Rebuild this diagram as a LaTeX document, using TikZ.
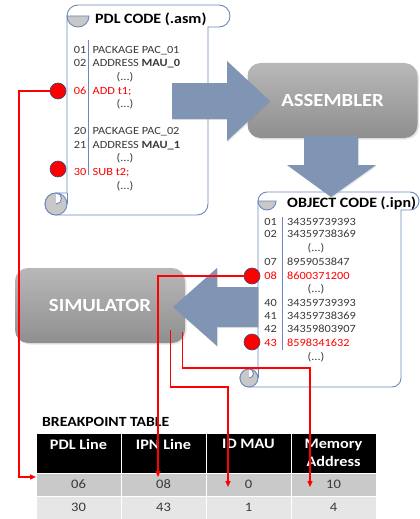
\documentclass[tikz,border=0pt]{standalone}
\usepackage{fontspec}
\setmainfont{Carlito}[FakeStretch=1.12]
\usetikzlibrary{positioning,arrows.meta,shadows}

\definecolor{scrollblue}{HTML}{6C88BE}
\definecolor{curlgray}{HTML}{C8C8C8}
\definecolor{codegray}{HTML}{3A3A3A}
\definecolor{flowblue}{HTML}{7F95B3}
\definecolor{boxtop}{HTML}{B8B8B8}
\definecolor{boxbottom}{HTML}{8F8F8F}
\definecolor{dotblue}{HTML}{2F4F7F}
\definecolor{rowdark}{HTML}{C9C9C9}
\definecolor{rowlight}{HTML}{E6E6E6}

\begin{document}
\begin{tikzpicture}[x=1pt,y=-1pt,
  scroll/.style={draw=scrollblue,line width=0.9pt,fill=white},
  curl/.style={draw=scrollblue,line width=0.9pt,fill=curlgray},
  lnum/.style={anchor=east,inner sep=0,text height=7.2pt,text depth=0pt,text=codegray,font=\fontsize{11}{13}\selectfont},
  lcode/.style={lnum,anchor=west},
  ellip/.style={lnum,anchor=center},
  hit/.style={text=red},
  ttl/.style={anchor=west,inner sep=0,text height=9pt,text depth=0pt,font=\fontsize{14.3}{16}\selectfont\bfseries},
  dot/.style={circle,fill=red,draw=dotblue,line width=0.6pt,minimum size=16pt,inner sep=0},
  tool/.style={rounded corners=13pt,minimum width=170pt,minimum height=75pt,top color=boxtop,bottom color=boxbottom,text=white,font=\fontsize{18.5}{20}\selectfont\bfseries,drop shadow={opacity=0.2,shadow xshift=1.5pt,shadow yshift=-1.5pt}},
  flow/.style={fill=flowblue,drop shadow={opacity=0.2,shadow xshift=1pt,shadow yshift=-1pt}},
  cell/.style={minimum width=85pt,minimum height=23pt,draw=white,line width=1pt,inner sep=0,outer sep=0,text=codegray,font=\fontsize{13}{15}\selectfont},
  head/.style={cell,minimum height=40pt,fill=black,text=white,align=center,font=\fontsize{14.5}{18}\selectfont\bfseries},
  bp/.style={draw=red,line width=1.3pt,-{Triangle[length=6pt,width=5pt]}}]

\useasboundingbox (0,0) rectangle (420,519);

% source scroll
\draw[scroll] (67,193) -- (67,16) arc[start angle=180,end angle=270,radius=11] -- (219,5) arc[start angle=270,end angle=450,radius=11] -- (208,27) -- (208,204) arc[start angle=0,end angle=90,radius=11] -- (56,215) arc[start angle=90,end angle=270,radius=11] -- cycle;
\draw[curl] (67,16) arc[start angle=180,end angle=0,radius=11] -- cycle;
\draw[curl] (56,204) circle (11);
\draw[scroll] (56,193) arc[start angle=270,end angle=450,radius=5.5];
\draw[scroll] (67,193) -- (67,204);

\node[ttl] (pdltitle) at (95,19.5) {PDL CODE (.asm)};
\draw[draw=scrollblue,line width=0.9pt] (88,40) -- (88,175);
\node[lnum] (n01) at (86.5,50) {01};
\node[lcode] (l01) at (92.5,50) {PACKAGE PAC\_01};
\node[lnum] (n02) at (86.5,63) {02};
\node[lcode] (l02) at (92.5,63) {ADDRESS \textbf{MAU\_0}};
\node[ellip] (e1) at (125,77) {(...)};
\node[lnum,hit] (n06) at (86.5,91) {06};
\node[lcode,hit] (l06) at (92.5,91) {ADD t1;};
\node[ellip] (e2) at (125,104) {(...)};
\node[lnum] (n20) at (86.5,131) {20};
\node[lcode] (l20) at (92.5,131) {PACKAGE PAC\_02};
\node[lnum] (n21) at (86.5,145) {21};
\node[lcode] (l21) at (92.5,145) {ADDRESS \textbf{MAU\_1}};
\node[ellip] (e3) at (125,158) {(...)};
\node[lnum,hit] (n30) at (86.5,172) {30};
\node[lcode,hit] (l30) at (92.5,172) {SUB t2;};
\node[ellip] (e4) at (125,186) {(...)};

% object scroll
\draw[scroll] (258,369) -- (258,201) arc[start angle=180,end angle=270,radius=9] -- (410,192) arc[start angle=270,end angle=450,radius=9] -- (401,210) -- (401,378) arc[start angle=0,end angle=90,radius=9] -- (249,387) arc[start angle=90,end angle=270,radius=9] -- cycle;
\draw[curl] (258,201) arc[start angle=180,end angle=0,radius=9] -- cycle;
\draw[curl] (249,378) circle (9);
\draw[scroll] (249,369) arc[start angle=270,end angle=450,radius=4.5];
\draw[scroll] (258,369) -- (258,378);

\node[ttl] (ipntitle) at (287,203) {OBJECT CODE (.ipn)};
\draw[draw=scrollblue,line width=0.9pt] (282,217) -- (282,350);
\node[lnum] (m01) at (277,222) {01};
\node[lcode] (v01) at (287,222) {34359739393};
\node[lnum] (m02) at (277,234) {02};
\node[lcode] (v02) at (287,234) {34359738369};
\node[ellip] (f1) at (316,248) {(...)};
\node[lnum] (m07) at (277,262) {07};
\node[lcode] (v07) at (287,262) {8959053847};
\node[lnum,hit] (m08) at (277,276) {08};
\node[lcode,hit] (v08) at (287,276) {8600371200};
\node[ellip] (f2) at (316,289) {(...)};
\node[lnum] (m40) at (277,303) {40};
\node[lcode] (v40) at (287,303) {34359739393};
\node[lnum] (m41) at (277,316) {41};
\node[lcode] (v41) at (287,316) {34359738369};
\node[lnum] (m42) at (277,329) {42};
\node[lcode] (v42) at (287,329) {34359803907};
\node[lnum,hit] (m43) at (277,343) {43};
\node[lcode,hit] (v43) at (287,343) {8598341632};
\node[ellip] (f3) at (316,357) {(...)};

% tools and flow
\node[tool] (asm) at (332.5,100.5) {ASSEMBLER};
\node[tool] (sim) at (100,305.5) {SIMULATOR};
\path[flow] (172,83) -- (227,83) -- (227,61) -- (270,101) -- (227,141) -- (227,119) -- (172,119) -- cycle;
\path[flow] (304,136) -- (358,136) -- (358,165) -- (376,165) -- (331,197) -- (287,165) -- (304,165) -- cycle;
\path[flow] (258,287) -- (217,287) -- (217,268) -- (173,307) -- (217,346) -- (217,327) -- (258,327) -- cycle;

% breakpoints
\node[dot] (d06) at (58,91) {};
\node[dot] (d30) at (58,169) {};
\node[dot] (d08) at (252,276) {};
\node[dot] (d43) at (252,342) {};

% table
\node[ttl,font=\fontsize{14}{16}\selectfont\bfseries] (bptitle) at (42,422) {BREAKPOINT TABLE};
\node[head] (hpdl) at (78.5,453) {PDL Line\\\mbox{}};
\node[head,right=0pt of hpdl] (hipn) {IPN Line\\\mbox{}};
\node[head,right=0pt of hipn] (hmau) {ID MAU\\\mbox{}};
\node[head,right=0pt of hmau] (hmem) {Memory\\Address};
\node[cell,fill=rowdark,below=0pt of hpdl] (c06) {06};
\node[cell,fill=rowdark,below=0pt of hipn] (c08) {08};
\node[cell,fill=rowdark,below=0pt of hmau] (c0) {0};
\node[cell,fill=rowdark,below=0pt of hmem] (c10) {10};
\node[cell,fill=rowlight,below=0pt of c06] (c30) {30};
\node[cell,fill=rowlight,below=0pt of c08] (c43) {43};
\node[cell,fill=rowlight,below=0pt of c0] (c1) {1};
\node[cell,fill=rowlight,below=0pt of c10] (c4) {4};

% links
\coordinate (k1) at (19,477);
\coordinate (s1) at ([xshift=-15pt,yshift=13pt]sim.south east);
\coordinate (s2) at ([xshift=-3pt,yshift=11pt]sim.south east);
\coordinate (k2) at (228,387);
\coordinate (k3) at (310,368);
\draw[bp] (d06.west) -| (k1) -- (k1 -| c06.west);
\draw[bp] (d08.west) -| ([xshift=-5.5pt,yshift=-4pt]c08.north);
\draw[bp] (s1) |- (k2) -- ([xshift=-20.5pt,yshift=-2.5pt]c0.center);
\draw[bp] (s2) |- (k3) -- ([xshift=-23.5pt,yshift=-2.5pt]c10.center);

\end{tikzpicture}
\end{document}
